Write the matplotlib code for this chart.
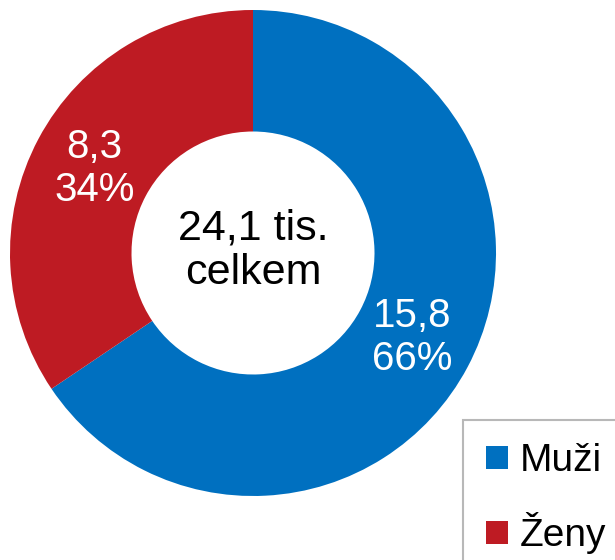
import matplotlib.pyplot as plt

plt.rcParams['font.family'] = ['Liberation Sans', 'DejaVu Sans']

categories = ['Muži', 'Ženy']
values = [15.8, 8.3]
colors = ['#0070C0', '#BE1B23']
total_label = '24,1 tis.\ncelkem'

total = sum(values)


def label_fmt(pct):
    val = pct * total / 100
    return f'{val:.1f}'.replace('.', ',') + f'\n{pct:.0f}%'


fig = plt.figure(figsize=(6.15, 5.6), dpi=100)
ax = fig.add_axes([10 / 615, 64 / 560, 486 / 615, 486 / 560])
wedges, texts, autotexts = ax.pie(
    values, colors=colors, startangle=90, counterclock=False,
    autopct=label_fmt, pctdistance=0.74,
    wedgeprops=dict(width=0.5, linewidth=0),
    textprops=dict(color='white', fontsize=29, linespacing=1.15))
ax.set_xlim(-1, 1)
ax.set_ylim(-1, 1)
ax.set_aspect('equal')

ax.text(0, 0.01, total_label, ha='center', va='center', fontsize=31,
        color='black', linespacing=1.15)

leg = fig.legend(wedges, categories, loc='upper left',
                 bbox_to_anchor=(463 / 615, 1 - 420 / 560),
                 fontsize=28, frameon=True, fancybox=False,
                 handlelength=0.55, handleheight=0.55, handletextpad=0.3,
                 labelspacing=0.85, borderpad=0.6, borderaxespad=0)
leg.get_frame().set_edgecolor('#A6A6A6')
leg.get_frame().set_linewidth(1.5)

fig.savefig('out.png', dpi=100)
plt.close()
